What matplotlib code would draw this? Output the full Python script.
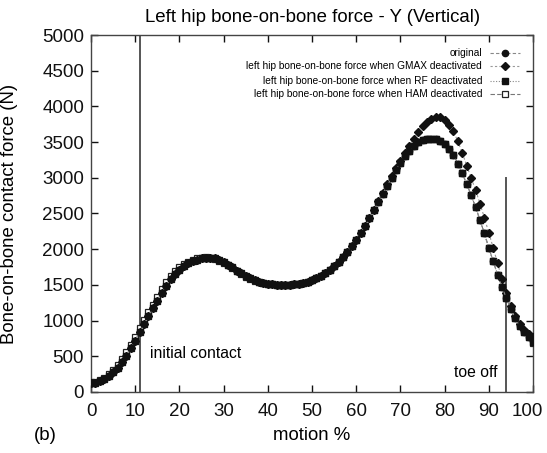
import numpy as np
import matplotlib
matplotlib.use("Agg")
import matplotlib.pyplot as plt
from matplotlib.lines import Line2D
from matplotlib.transforms import ScaledTranslation

plt.rcParams['font.family'] = ['Liberation Sans', 'DejaVu Sans']

motion = list(range(0, 101))

original = [130, 130, 150, 180, 220, 280, 340, 420, 510, 610,
            720, 840, 950, 1060, 1170, 1280, 1390, 1490, 1580, 1650,
            1710, 1760, 1800, 1830, 1855, 1870, 1880, 1880, 1870, 1850,
            1820, 1785, 1745, 1700, 1660, 1620, 1590, 1565, 1545, 1530,
            1518, 1510, 1505, 1502, 1500, 1502, 1507, 1515, 1528, 1545,
            1568, 1595, 1630, 1670, 1715, 1765, 1825, 1890, 1965, 2045,
            2135, 2230, 2330, 2440, 2550, 2660, 2775, 2890, 3000, 3110,
            3210, 3300, 3380, 3445, 3495, 3525, 3540, 3545, 3540, 3520,
            3480, 3410, 3320, 3200, 3065, 2910, 2760, 2590, 2410, 2220,
            2020, 1830, 1640, 1470, 1310, 1160, 1030, 920, 840, 770,
            710]

gmax_off = [130, 130, 150, 180, 220, 280, 340, 420, 510, 610,
            720, 840, 950, 1060, 1170, 1280, 1390, 1490, 1580, 1650,
            1710, 1760, 1800, 1830, 1855, 1870, 1880, 1880, 1870, 1850,
            1820, 1785, 1745, 1700, 1660, 1620, 1590, 1565, 1545, 1530,
            1518, 1510, 1505, 1502, 1500, 1502, 1507, 1515, 1528, 1545,
            1568, 1595, 1630, 1670, 1715, 1765, 1825, 1890, 1965, 2045,
            2135, 2230, 2330, 2440, 2555, 2670, 2790, 2910, 3030, 3140,
            3240, 3350, 3450, 3550, 3640, 3720, 3785, 3830, 3850, 3845,
            3810, 3745, 3650, 3510, 3350, 3170, 3000, 2830, 2640, 2440,
            2230, 2020, 1800, 1580, 1380, 1200, 1060, 950, 870, 810,
            770]

rf_off = [130, 130, 150, 180, 220, 280, 340, 420, 510, 610,
          720, 840, 950, 1060, 1170, 1280, 1390, 1490, 1580, 1650,
          1710, 1760, 1800, 1830, 1855, 1870, 1880, 1880, 1870, 1850,
          1820, 1785, 1745, 1700, 1660, 1620, 1590, 1565, 1545, 1530,
          1518, 1510, 1505, 1502, 1500, 1502, 1507, 1515, 1528, 1545,
          1568, 1595, 1630, 1670, 1715, 1765, 1825, 1890, 1965, 2045,
          2135, 2230, 2330, 2440, 2550, 2660, 2775, 2890, 3000, 3110,
          3210, 3300, 3380, 3445, 3495, 3525, 3540, 3545, 3540, 3520,
          3480, 3410, 3320, 3200, 3065, 2910, 2760, 2590, 2410, 2220,
          2020, 1830, 1640, 1470, 1310, 1160, 1030, 920, 840, 770,
          700]

ham_off = [140, 140, 165, 200, 245, 305, 375, 460, 555, 660,
           775, 890, 1005, 1115, 1225, 1335, 1440, 1535, 1620, 1690,
           1745, 1790, 1825, 1850, 1870, 1880, 1885, 1880, 1865, 1840,
           1810, 1772, 1732, 1690, 1650, 1612, 1582, 1558, 1540, 1526,
           1515, 1508, 1503, 1500, 1500, 1502, 1507, 1515, 1528, 1545,
           1568, 1595, 1630, 1670, 1715, 1765, 1825, 1890, 1965, 2045,
           2135, 2230, 2330, 2440, 2550, 2660, 2775, 2890, 3000, 3110,
           3210, 3300, 3380, 3445, 3495, 3525, 3540, 3545, 3540, 3520,
           3480, 3410, 3320, 3200, 3065, 2910, 2760, 2590, 2410, 2220,
           2020, 1830, 1640, 1470, 1310, 1160, 1030, 920, 840, 770,
           690]

labels = ["original",
          "left hip bone-on-bone force when GMAX deactivated",
          "left hip bone-on-bone force when RF deactivated",
          "left hip bone-on-bone force when HAM deactivated"]

initial_contact = 11
toe_off = 94
toe_off_top = 3000

fig = plt.figure(figsize=(5.47, 4.53), dpi=100)
ax = fig.add_axes([0.1664, 0.1347, 0.9744 - 0.1664, 0.9227 - 0.1347])

styles = [
    dict(marker='o', markersize=4.5, mfc='#111111', mec='#111111', ls=(0, (3, 2)), color='#888888', lw=0.8),
    dict(marker='D', markersize=3.8, mfc='#111111', mec='#111111', ls=(0, (2, 2)), color='#999999', lw=0.8),
    dict(marker='s', markersize=4.0, mfc='#111111', mec='#111111', ls=(0, (1, 1.5)), color='#888888', lw=0.8),
    dict(marker='s', markersize=4.2, mfc='white', mec='#222222', mew=0.9, ls=(0, (4, 2)), color='#777777', lw=0.8),
]
series = [original, gmax_off, rf_off, ham_off]
zorders = [6, 5, 4, 3]
for i in range(4):
    ax.plot(motion, series[i], zorder=zorders[i], **styles[i])

ax.plot([initial_contact, initial_contact], [0, 5000], color='#555555', lw=1.4, zorder=2)
ax.plot([toe_off, toe_off], [0, toe_off_top], color='#555555', lw=1.4, zorder=2)

ax.text(13.3, 546, "initial contact", fontsize=11.3, va='center', ha='left')
ax.text(91.9, 266, "toe off", fontsize=11.3, va='center', ha='right')

ax.set_xlim(0, 100)
ax.set_ylim(0, 5000)
ax.set_xticks(range(0, 101, 10))
ax.set_yticks(range(0, 5001, 500))
ax.tick_params(direction='in', length=5, width=1, top=True, right=True,
               labelsize=13.5, colors='#111111')
ax.tick_params(axis='x', pad=8)
ax.tick_params(axis='y', pad=5)
for sp in ax.spines.values():
    sp.set_color('#444444')
    sp.set_linewidth(1.0)

# nudge the last x tick label ("100") left so it stays inside the figure
last_tick = ax.xaxis.get_major_ticks()[-1]
last_tick.label1.set_transform(last_tick.label1.get_transform()
                               + ScaledTranslation(-4 / 72, 0, fig.dpi_scale_trans))

fig.text(0.572, 1 - 18 / 453, "Left hip bone-on-bone force - Y (Vertical)",
         fontsize=13.4, ha='center', va='center')
ax.set_xlabel("motion %", fontsize=13.4)
ax.set_ylabel("Bone-on-bone contact force (N)", fontsize=13.4)
ax.xaxis.set_label_coords(0.5, -0.098)
ax.yaxis.set_label_coords(-0.165, 0.5)
fig.text(0.082, 1 - 435 / 453, "(b)", fontsize=13.4, ha='center', va='center')

# manual legend (right-aligned text, sample on the right)
leg_text_x = 0.885
leg_line = (0.903, 0.937, 0.971)
leg_ys = [0.950, 0.913, 0.871, 0.834]
for i, (lab, y) in enumerate(zip(labels, leg_ys)):
    ax.text(leg_text_x, y, lab, transform=ax.transAxes, fontsize=7.25,
            ha='right', va='center')
    st = dict(styles[i])
    ax.add_line(Line2D(leg_line, [y, y, y], transform=ax.transAxes,
                       markevery=[1], **st))

fig.savefig("out.png", dpi=100)
